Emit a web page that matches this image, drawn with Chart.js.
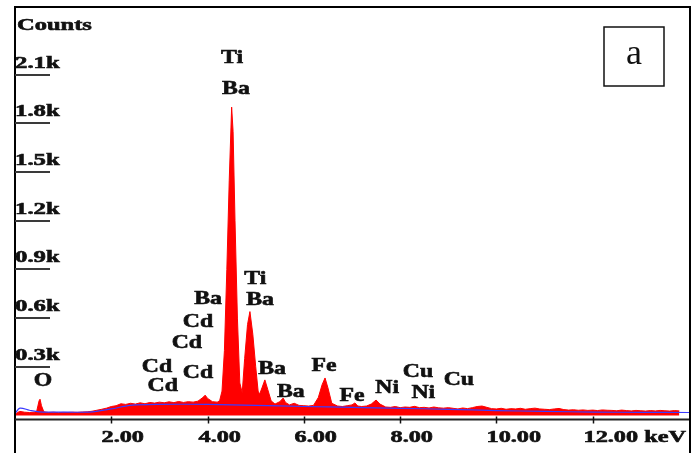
<!DOCTYPE html>
<html>
<head>
<meta charset="utf-8">
<script src="https://cdn.jsdelivr.net/npm/chart.js@4/dist/chart.umd.min.js"></script>
<style>
html,body{margin:0;padding:0;background:#fff;}
#wrap{width:699px;height:453px;}
</style>
</head>
<body>
<div id="wrap"><canvas id="c" width="699" height="453"></canvas></div>
<script>
// ---- data ----
const energy = [0.00,0.05,0.10,0.20,0.30,0.40,0.45,0.50,0.52,0.55,0.60,0.70,0.80,0.90,1.00,1.10,1.20,1.30,1.40,1.50,1.60,1.70,1.80,1.90,2.00,2.10,2.20,2.30,2.40,2.50,2.60,2.70,2.80,2.90,3.00,3.10,3.20,3.30,3.40,3.50,3.60,3.70,3.80,3.90,3.95,4.00,4.10,4.20,4.25,4.30,4.35,4.40,4.45,4.50,4.53,4.57,4.62,4.67,4.72,4.77,4.83,4.88,4.94,5.00,5.05,5.08,5.13,5.19,5.25,5.32,5.40,5.50,5.57,5.62,5.70,5.80,5.90,6.00,6.10,6.20,6.30,6.38,6.44,6.50,6.58,6.70,6.80,6.90,7.00,7.06,7.12,7.20,7.30,7.40,7.50,7.58,7.70,7.80,7.90,8.00,8.10,8.20,8.30,8.40,8.50,8.60,8.70,8.80,8.90,9.00,9.10,9.20,9.30,9.40,9.50,9.60,9.70,9.80,9.90,10.00,10.10,10.20,10.30,10.40,10.50,10.60,10.70,10.80,10.90,11.00,11.10,11.20,11.30,11.40,11.50,11.60,11.70,11.80,11.90,12.00,12.10,12.20,12.30,12.40,12.50,12.60,12.70,12.80,12.90,13.00,13.10,13.20,13.30,13.40,13.50,13.60,13.70,13.80,13.90,14.00];
const counts = [5,18,25,20,18,20,25,90,100,60,22,18,20,17,19,18,20,19,21,22,26,32,38,45,55,60,72,68,75,70,78,72,80,76,82,78,84,79,86,80,85,82,88,110,125,105,85,82,90,150,400,900,1450,1900,1750,1200,600,200,140,350,560,640,500,300,150,130,170,219,160,90,70,85,107,80,65,75,62,60,58,62,110,190,231,170,75,58,55,60,65,77,58,55,58,70,95,70,52,50,55,48,52,50,56,48,50,46,52,47,45,48,44,40,46,42,48,55,58,50,42,40,44,38,42,40,44,38,42,45,40,38,36,40,43,36,33,35,32,34,31,33,30,34,32,31,29,33,30,28,31,29,27,30,28,31,29,27,30,28];
const bgEnergy = [0,0.1,0.3,0.5,1.0,1.6,2.0,2.4,3.0,4.0,5.0,6.0,7.0,8.0,9.0,10.0,11.0,12.0,13.0,14.0];
const bgCounts = [12,45,32,22,20,22,40,62,68,68,62,55,50,44,38,30,25,21,19,18];
const xTickValues = [2,4,6,8,10,12];
const xTickLabels = ["2.00","4.00","6.00","8.00","10.00","12.00 keV"];
const yTickValues = [300,600,900,1200,1500,1800,2100];
const yTickLabels = ["0.3k","0.6k","0.9k","1.2k","1.5k","1.8k","2.1k"];
const peakLabels = ["Ti","Ba","Ba","Ti","Ba","Cd","Cd","Cd","Cd","Cd","Ba","Ba","Fe","Fe","Ni","Cu","Ni","Cu","O"];
const peakLabelE = [4.51,4.59,4.01,4.99,5.09,3.80,3.57,2.95,3.80,3.07,5.34,5.73,6.42,7.00,7.73,8.37,8.48,9.22,0.58];
const peakLabelC = [2215,2024,724,847,718,582,453,305,268,188,293,151,311,126,176,274,145,225,219];

const spectrum = energy.map((e,i)=>({x:e,y:counts[i]}));
const background = bgEnergy.map((e,i)=>({x:e,y:bgCounts[i]}));

function stretchText(ctx, txt, x, y, font, sx, align){
  ctx.save();
  ctx.translate(x,y);
  ctx.scale(sx,1);
  ctx.font = font;
  ctx.textAlign = align;
  ctx.textBaseline = 'alphabetic';
  ctx.fillStyle = '#111';
  ctx.strokeStyle = '#111';
  ctx.lineWidth = 0.6;
  ctx.fillText(txt,0,0);
  ctx.strokeText(txt,0,0);
  ctx.restore();
}

const decor = {
  id:'decor',
  afterDraw(chart){
    const ctx = chart.ctx;
    const xs = chart.scales.x, ys = chart.scales.y;
    const ca = chart.chartArea;
    ctx.save();
    // frame
    ctx.strokeStyle = '#000';
    ctx.lineWidth = 2;
    ctx.beginPath();
    ctx.moveTo(15,453); ctx.lineTo(15,7); ctx.lineTo(690,7); ctx.lineTo(690,453);
    ctx.stroke();
    // x axis line
    ctx.strokeStyle = '#222';
    ctx.lineWidth = 2;
    ctx.beginPath();
    ctx.moveTo(ca.left, ca.bottom); ctx.lineTo(ca.right, ca.bottom);
    ctx.stroke();
    // x ticks & labels
    xTickValues.forEach((v,i)=>{
      const px = Math.round(xs.getPixelForValue(v))+0.5;
      ctx.strokeStyle = '#111';
      ctx.lineWidth = 1.5;
      ctx.beginPath();
      ctx.moveTo(px, ca.bottom-3); ctx.lineTo(px, ca.bottom+4);
      ctx.stroke();
      stretchText(ctx, xTickLabels[i], px-10, 442, 'bold 16.5px "Liberation Serif"', 1.47, 'left');
    });
    // y ticks & labels
    yTickValues.forEach((v,i)=>{
      const py = Math.round(ys.getPixelForValue(v));
      ctx.strokeStyle = '#3a3a3a';
      ctx.lineWidth = 2;
      ctx.beginPath();
      ctx.moveTo(15, py); ctx.lineTo(50, py);
      ctx.stroke();
      stretchText(ctx, yTickLabels[i], 15, py-7, 'bold 16.5px "Liberation Serif"', 1.5, 'left');
    });
    stretchText(ctx, 'Counts', 17, 30, 'bold 17px "Liberation Serif"', 1.44, 'left');
    // peak labels
    peakLabels.forEach((t,i)=>{
      const px = xs.getPixelForValue(peakLabelE[i]);
      const py = ys.getPixelForValue(peakLabelC[i]);
      stretchText(ctx, t, px, py+6.5, 'bold 19px "Liberation Serif"', 1.25, 'center');
    });
    // panel letter box
    ctx.fillStyle = '#fff';
    ctx.fillRect(604,27,60,59);
    ctx.strokeStyle = '#111';
    ctx.lineWidth = 1.5;
    ctx.strokeRect(604,27,60,59);
    ctx.font = '36px "Liberation Serif"';
    ctx.fillStyle = '#111';
    ctx.textAlign = 'center';
    ctx.textBaseline = 'alphabetic';
    ctx.fillText('a', 634, 64);
    ctx.restore();
  }
};

new Chart(document.getElementById('c'), {
  type:'line',
  data:{
    datasets:[
      {data:spectrum, borderColor:'#ff0000', backgroundColor:'#ff0000', borderWidth:1, fill:'origin', pointRadius:0, tension:0, order:2},
      {data:background, borderColor:'#3b3bff', borderWidth:1.2, fill:false, pointRadius:0, tension:0.3, order:1}
    ]
  },
  options:{
    responsive:false,
    animation:false,
    layout:{padding:{left:15,right:10,top:7,bottom:33.5}},
    plugins:{legend:{display:false}, tooltip:{enabled:false}},
    scales:{
      x:{type:'linear', min:0, max:14, display:false},
      y:{type:'linear', min:-25, max:2517, display:false}
    }
  },
  plugins:[decor]
});
</script>
</body>
</html>
